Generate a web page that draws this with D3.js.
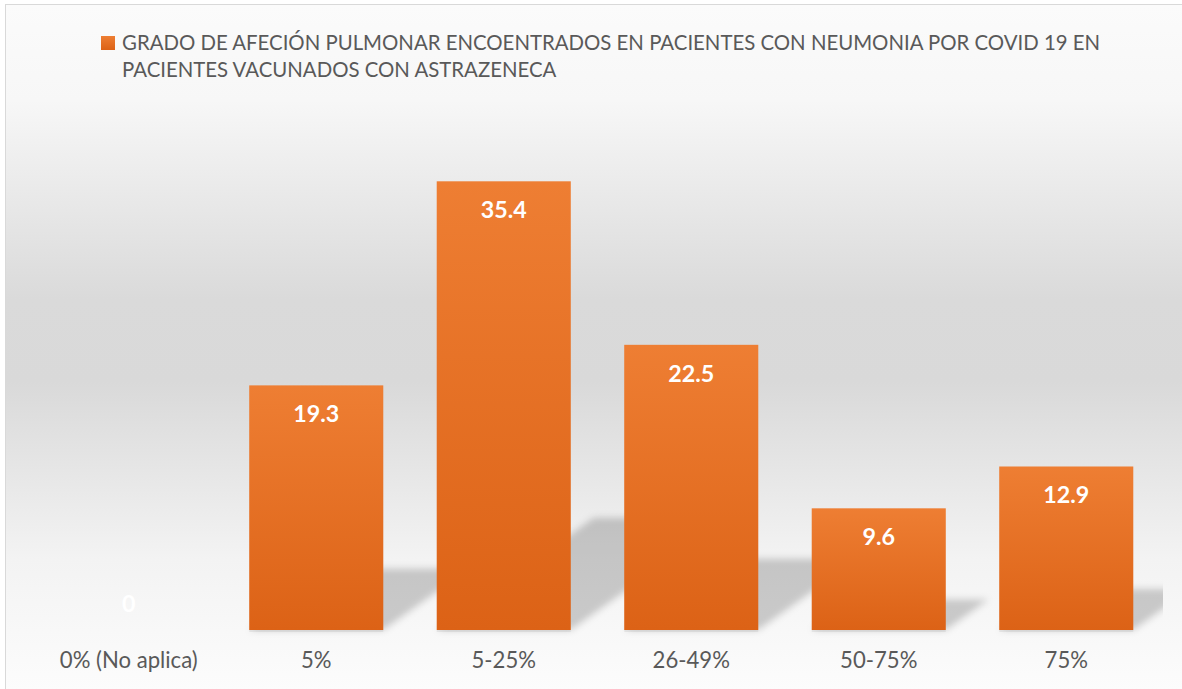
<!DOCTYPE html>
<html>
<head>
<meta charset="utf-8">
<script src="https://cdn.jsdelivr.net/npm/d3@7"></script>
<style>
  html, body { margin: 0; padding: 0; background: #ffffff; }
  svg { display: block; }
</style>
</head>
<body>
<div id="chart"></div>
<script>
// ---- data ----
const categories = ["0% (No aplica)", "5%", "5-25%", "26-49%", "50-75%", "75%"];
const values = [0, 19.3, 35.4, 22.5, 9.6, 12.9];
const valueLabels = ["0", "19.3", "35.4", "22.5", "9.6", "12.9"];
const legendLines = [
  "GRADO DE AFECIÓN PULMONAR ENCOENTRADOS EN PACIENTES CON NEUMONIA POR COVID 19 EN",
  "PACIENTES VACUNADOS CON ASTRAZENECA"
];
const yDomain = [0, 40];

// ---- layout ----
const W = 1182, H = 689;
const FONT = "Lato, 'Open Sans', 'Noto Sans', sans-serif";

const svg = d3.select("#chart").append("svg").attr("width", W).attr("height", H);
const defs = svg.append("defs");

// background gradient
const bg = defs.append("linearGradient").attr("id", "bgGrad")
  .attr("x1", 0).attr("y1", 0).attr("x2", 0).attr("y2", 1);
[[0, "#fbfbfb"], [0.14, "#f7f7f7"], [0.43, "#dadada"], [0.55, "#d9d9d9"], [0.81, "#f3f3f3"], [1, "#fcfcfc"]]
  .forEach(([o, c]) => bg.append("stop").attr("offset", o).attr("stop-color", c));

// bar gradient
const bgBar = defs.append("linearGradient").attr("id", "barGrad")
  .attr("x1", 0).attr("y1", 0).attr("x2", 0).attr("y2", 1);
[[0, "#ee7e33"], [1, "#dc6216"]]
  .forEach(([o, c]) => bgBar.append("stop").attr("offset", o).attr("stop-color", c));

defs.append("filter").attr("id", "blur").attr("x", "-20%").attr("y", "-20%").attr("width", "140%").attr("height", "140%")
  .append("feGaussianBlur").attr("stdDeviation", 3.5);

defs.append("clipPath").attr("id", "plotClip")
  .append("rect").attr("x", 6).attr("y", 100).attr("width", 1157).attr("height", 540);

// chart area
svg.append("rect").attr("x", 5.5).attr("y", 4.5).attr("width", W - 5).attr("height", H - 4)
  .attr("fill", "url(#bgGrad)").attr("stroke", "#d9d9d9").attr("stroke-width", 1);

// scales
const x = d3.scaleBand().domain(categories).range([35, 1160]).paddingInner(0.285).paddingOuter(0.1425);
const y = d3.scaleLinear().domain(yDomain).range([630, 123]);

// shadows
const base = y(0);
const shadowG = svg.append("g").attr("clip-path", "url(#plotClip)")
  .append("g").attr("filter", "url(#blur)");
shadowG.selectAll("path").data(categories.map((c, i) => ({ c, v: values[i] })))
  .join("path")
  .attr("d", d => {
    const x0 = x(d.c), x1 = x0 + x.bandwidth();
    const rise = (base - y(d.v)) * 0.25;
    const dx = rise * 1.4;
    return `M${x0},${base}L${x1},${base}L${x1 + dx},${base - rise}L${x0 + dx},${base - rise}Z`;
  })
  .attr("fill", "#000").attr("fill-opacity", 0.19);

// faint base shadow
svg.append("g").selectAll("rect").data(categories.map((c, i) => ({ c, v: values[i] })).filter(d => d.v > 0))
  .join("rect")
  .attr("x", d => x(d.c)).attr("y", base).attr("width", x.bandwidth()).attr("height", 2)
  .attr("fill", "#000").attr("fill-opacity", 0.06);

// bars
svg.append("g").selectAll("rect").data(categories.map((c, i) => ({ c, v: values[i] })))
  .join("rect")
  .attr("x", d => x(d.c)).attr("y", d => y(d.v))
  .attr("width", x.bandwidth()).attr("height", d => base - y(d.v))
  .attr("fill", "url(#barGrad)");

// helper to fit font size to a target width
function fit(sel, target) {
  const w = sel.node().getComputedTextLength();
  const fs = parseFloat(sel.attr("font-size"));
  return fs * target / w;
}

// value labels
const vl = svg.append("g").selectAll("text").data(categories.map((c, i) => ({ c, v: values[i], t: valueLabels[i] })))
  .join("text")
  .attr("x", d => x(d.c) + x.bandwidth() / 2)
  .attr("y", d => Math.min(y(d.v) + 37, base - 18))
  .attr("text-anchor", "middle")
  .attr("font-family", FONT).attr("font-weight", "bold").attr("font-size", 20)
  .attr("fill", "#ffffff")
  .text(d => d.t);
const vfs = fit(vl.filter((d, i) => i === 2), 46);
vl.attr("font-size", vfs);

// category axis labels
const axisG = svg.append("g").attr("transform", `translate(0,${base})`)
  .call(d3.axisBottom(x).tickSize(0).tickPadding(0));
axisG.select(".domain").remove();
axisG.selectAll("text")
  .attr("y", 38).attr("dy", 0)
  .attr("font-family", FONT).attr("font-size", 20).attr("fill", "#595959");
const cfs = fit(axisG.select("text"), 138);
axisG.selectAll("text").attr("font-size", cfs);

// legend
const leg = svg.append("g");
leg.append("rect").attr("x", 101).attr("y", 36).attr("width", 14).attr("height", 14).attr("fill", "url(#barGrad)");
const lt = leg.selectAll("text").data(legendLines).join("text")
  .attr("x", 122).attr("y", (d, i) => 50 + i * 27)
  .attr("font-family", FONT).attr("font-size", 20).attr("fill", "#595959")
  .text(d => d);
const lfs = fit(lt.filter((d, i) => i === 0), 979);
lt.attr("font-size", lfs);
</script>
</body>
</html>
